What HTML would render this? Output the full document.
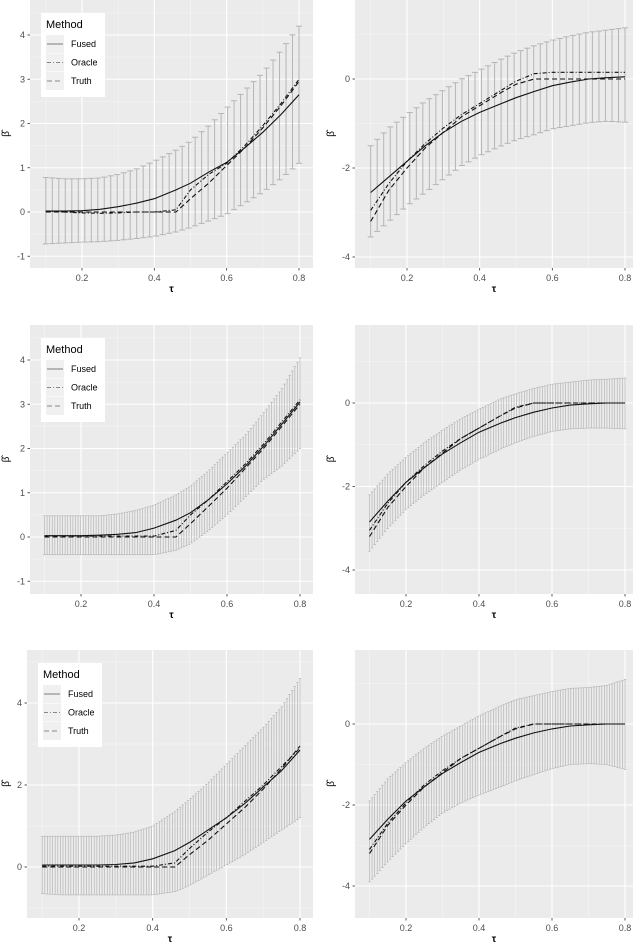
<!DOCTYPE html>
<html><head><meta charset="utf-8"><style>
html,body{margin:0;padding:0;background:#fff;}
svg{display:block;font-family:"Liberation Sans",sans-serif;}
</style></head><body>
<svg id="chart" width="640" height="944" viewBox="0 0 640 944"></svg>
<script>
const knots=[0.1,0.15,0.2,0.25,0.3,0.35,0.4,0.46,0.5,0.55,0.6,0.65,0.7,0.75,0.8];
const tlFused=[0.02,0.02,0.03,0.06,0.12,0.2,0.3,0.5,0.65,0.9,1.12,1.45,1.8,2.2,2.65];
const tlOracle=[0.02,0,-0.02,-0.03,-0.02,0,0,0.05,0.5,0.85,1.1,1.5,1.95,2.45,3.0];
const tlTruth=[0,0,0,0,0,0,0,0,0.3,0.65,1.05,1.45,1.9,2.4,2.95];
const tlUpper=[0.78,0.75,0.75,0.77,0.85,0.97,1.15,1.4,1.6,1.95,2.35,2.75,3.15,3.65,4.2];
const tlLower=[-0.72,-0.7,-0.68,-0.67,-0.64,-0.6,-0.55,-0.45,-0.35,-0.2,-0.05,0.2,0.45,0.75,1.1];
const trFused=[-2.55,-2.2,-1.85,-1.5,-1.2,-0.95,-0.75,-0.55,-0.42,-0.28,-0.15,-0.07,0,0.03,0.05];
const trOracle=[-2.95,-2.35,-1.85,-1.45,-1.1,-0.8,-0.55,-0.25,-0.05,0.12,0.15,0.15,0.15,0.15,0.15];
const trTruth=[-3.2,-2.5,-2.0,-1.55,-1.2,-0.85,-0.6,-0.3,-0.12,0,0,0,0,0,0];
const trUpper=[-1.5,-1.1,-0.8,-0.5,-0.25,0,0.2,0.45,0.6,0.75,0.87,0.97,1.05,1.1,1.15];
const trLower=[-3.55,-3.2,-2.85,-2.55,-2.25,-1.95,-1.72,-1.5,-1.37,-1.25,-1.12,-1.05,-0.98,-0.95,-0.97];
const mlFused=[0.03,0.03,0.03,0.04,0.06,0.1,0.2,0.38,0.55,0.85,1.2,1.6,2.05,2.55,3.05];
const mlOracle=[0.02,0.02,0.02,0.02,0.02,0.02,0.02,0.15,0.5,0.85,1.25,1.65,2.1,2.6,3.1];
const mlTruth=[0,0,0,0,0,0,0,0,0.3,0.7,1.1,1.55,2.0,2.5,3.0];
const mlUpper=[0.48,0.48,0.48,0.48,0.52,0.6,0.72,0.95,1.15,1.5,1.9,2.3,2.8,3.35,4.05];
const mlLower=[-0.4,-0.4,-0.4,-0.4,-0.4,-0.4,-0.4,-0.3,-0.15,0.15,0.5,0.9,1.3,1.6,2.0];
const mrFused=[-2.85,-2.35,-1.9,-1.55,-1.22,-0.95,-0.7,-0.48,-0.35,-0.22,-0.12,-0.05,-0.02,0,0];
const mrOracle=[-3.05,-2.4,-1.9,-1.5,-1.15,-0.85,-0.6,-0.3,-0.1,0,0,0,0,0,0];
const mrTruth=[-3.2,-2.5,-2.0,-1.55,-1.2,-0.85,-0.6,-0.3,-0.12,0,0,0,0,0,0];
const mrUpper=[-2.2,-1.7,-1.3,-0.95,-0.65,-0.38,-0.15,0.1,0.22,0.35,0.45,0.5,0.55,0.57,0.6];
const mrLower=[-3.55,-3.0,-2.55,-2.2,-1.9,-1.6,-1.35,-1.1,-0.95,-0.8,-0.68,-0.62,-0.6,-0.6,-0.62];
const blFused=[0.05,0.05,0.05,0.05,0.06,0.1,0.2,0.4,0.6,0.9,1.2,1.55,1.95,2.35,2.85];
const blOracle=[0.02,0.02,0.02,0.02,0.02,0.02,0.02,0.1,0.45,0.85,1.2,1.6,2.0,2.45,2.9];
const blTruth=[0,0,0,0,0,0,0,0,0.3,0.65,1.05,1.45,1.9,2.4,2.95];
const blUpper=[0.75,0.75,0.75,0.75,0.78,0.85,1.0,1.35,1.65,2.05,2.5,2.95,3.4,3.9,4.6];
const blLower=[-0.65,-0.68,-0.68,-0.68,-0.68,-0.68,-0.68,-0.6,-0.45,-0.2,0.05,0.3,0.6,0.9,1.2];
const brFused=[-2.85,-2.35,-1.9,-1.55,-1.22,-0.95,-0.7,-0.48,-0.35,-0.22,-0.12,-0.05,-0.02,0,0];
const brOracle=[-3.1,-2.45,-1.95,-1.5,-1.15,-0.85,-0.6,-0.3,-0.1,0,0,0,0,0,0];
const brTruth=[-3.2,-2.5,-2.0,-1.55,-1.2,-0.85,-0.6,-0.3,-0.12,0,0,0,0,0,0];
const brUpper=[-1.9,-1.35,-0.95,-0.6,-0.3,-0.05,0.2,0.45,0.6,0.7,0.8,0.88,0.9,0.95,1.1];
const brLower=[-3.9,-3.4,-2.95,-2.55,-2.2,-1.95,-1.75,-1.55,-1.4,-1.25,-1.1,-1.0,-0.98,-1.0,-1.12];
const xTicks=[0.2,0.4,0.6,0.8];
const xTickLabels=["0.2","0.4","0.6","0.8"];
const yTicksLeft=[-1,0,1,2,3,4];
const yTicksLeftBottom=[0,2,4];
const yTicksRight=[-4,-2,0];
const legendLabels=["Fused","Oracle","Truth"];

const NS="http://www.w3.org/2000/svg";
const svg=document.getElementById('chart');
function mk(tag,attrs,parent){const e=document.createElementNS(NS,tag);for(const k in attrs)e.setAttribute(k,attrs[k]);(parent||svg).appendChild(e);return e;}
function lerp(arr,x){for(let i=0;i<knots.length-1;i++){if(x<=knots[i+1]){const t=(x-knots[i])/(knots[i+1]-knots[i]);return arr[i]+t*(arr[i+1]-arr[i]);}}return arr[arr.length-1];}

const panels=[
 {id:'top-left',L:30,R:313,T:0,B:268,x2:82,x8:299,ya:0,yaP:212,yb:4,ybP:35,ticks:yTicksLeft,minor:true,f:tlFused,o:tlOracle,t:tlTruth,u:tlUpper,l:tlLower,n:40,caps:true,legend:true},
 {id:'top-right',L:355,R:633,T:0,B:268,x2:407,x8:625,ya:0,yaP:79,yb:-4,ybP:257,ticks:yTicksRight,f:trFused,o:trOracle,t:trTruth,u:trUpper,l:trLower,n:40,caps:true},
 {id:'middle-left',L:30,R:313,T:325,B:594,x2:81,x8:300,ya:0,yaP:537,yb:4,ybP:360,ticks:yTicksLeft,f:mlFused,o:mlOracle,t:mlTruth,u:mlUpper,l:mlLower,n:100,legend:true},
 {id:'middle-right',L:355,R:633,T:325,B:594,x2:406,x8:625,ya:0,yaP:403,yb:-4,ybP:570,ticks:yTicksRight,f:mrFused,o:mrOracle,t:mrTruth,u:mrUpper,l:mrLower,n:100},
 {id:'bottom-left',L:27,R:313,T:650,B:918,x2:79,x8:300,ya:0,yaP:867,yb:4,ybP:703,ticks:yTicksLeftBottom,f:blFused,o:blOracle,t:blTruth,u:blUpper,l:blLower,n:100,legend:true},
 {id:'bottom-right',L:355,R:633,T:650,B:918,x2:406,x8:625,ya:0,yaP:724,yb:-4,ybP:886,ticks:yTicksRight,f:brFused,o:brOracle,t:brTruth,u:brUpper,l:brLower,n:100}
];

panels.forEach(p=>{
 const g=mk('g',{});
 
 
 const X=v=>p.x2+(v-0.2)*(p.x8-p.x2)/0.6;
 const Y=v=>p.yaP+(v-p.ya)*(p.ybP-p.yaP)/(p.yb-p.ya);
 const bg=mk('rect',{x:p.L,y:p.T,width:p.R-p.L,height:p.B-p.T,fill:'#ebebeb'},g);
 
 
 const step=p.ticks[1]-p.ticks[0];
 // minor grid
 [0.1,0.3,0.5,0.7].forEach(v=>mk('line',{x1:X(v),x2:X(v),y1:p.T,y2:p.B,stroke:'#f6f6f6','stroke-width':0.6},g));
 for(let v=p.ticks[0]-step;v<=p.ticks[p.ticks.length-1]+step;v+=step){const m=v+step/2;const yy=Y(m);if(yy>p.T&&yy<p.B)mk('line',{x1:p.L,x2:p.R,y1:yy,y2:yy,stroke:'#f6f6f6','stroke-width':0.6},g);}
 // major grid
 xTicks.forEach((v,i)=>{mk('line',{x1:X(v),x2:X(v),y1:p.T,y2:p.B,stroke:'#fff','stroke-width':1.1},g);
   const tl=mk('text',{x:X(v),y:p.B+13,'font-size':9,fill:'#4d4d4d','text-anchor':'middle'},g);tl.textContent=xTickLabels[i];
   
   
   mk('line',{x1:X(v),x2:X(v),y1:p.B,y2:p.B+2.5,stroke:'#333','stroke-width':0.8},g);});
 p.ticks.forEach(v=>{mk('line',{x1:p.L,x2:p.R,y1:Y(v),y2:Y(v),stroke:'#fff','stroke-width':1.1},g);
   const tl=mk('text',{x:p.L-5,y:Y(v)+3,'font-size':9,fill:'#4d4d4d','text-anchor':'end'},g);tl.textContent=String(v);
   
   
   mk('line',{x1:p.L-2.5,x2:p.L,y1:Y(v),y2:Y(v),stroke:'#333','stroke-width':0.8},g);});
 // error bars
 const eg=mk('g',{stroke:'#b5b5b5','stroke-width':p.caps?1:0.7,fill:'none'},g);
 
 
 for(let i=0;i<p.n;i++){
   const xv=0.1+0.7*i/(p.n-1);
   const up=lerp(p.u,xv),lo=lerp(p.l,xv);
   mk('line',{x1:X(xv),x2:X(xv),y1:Y(up),y2:Y(lo)},eg);
   const cw=p.caps?3:1.2;
   mk('line',{x1:X(xv)-cw,x2:X(xv)+cw,y1:Y(up),y2:Y(up)},eg);
   mk('line',{x1:X(xv)-cw,x2:X(xv)+cw,y1:Y(lo),y2:Y(lo)},eg);
 }
 const series=[['fused-line',p.f,''],['oracle-line',p.o,'4 2 1 2'],['truth-line',p.t,'5 3']];
 series.forEach(s=>{
   const pts=knots.map((k,i)=>X(k).toFixed(1)+','+Y(s[1][i]).toFixed(1)).join(' ');
   const pl=mk('polyline',{points:pts,fill:'none',stroke:'#111','stroke-width':1.1,'stroke-dasharray':s[2]||'none'},g);
   
   
 });
 const xt=mk('text',{x:(p.L+p.R)/2,y:p.B+24,'font-size':10,fill:'#000','text-anchor':'middle','font-weight':'bold'},g);xt.textContent='τ';
 
 
 const yx=p.L<100?9:334;
 const yt=mk('text',{x:yx,y:(p.T+p.B)/2,'font-size':10,fill:'#000','text-anchor':'middle',transform:`rotate(-90 ${yx} ${(p.T+p.B)/2})`},g);yt.textContent='β̂';
 
 
 if(p.legend){
   const lx=p.L+11,ly=p.T+13;
   const lg=mk('g',{},g);
   
   
   mk('rect',{x:lx,y:ly,width:64,height:84,fill:'#fff'},lg);
   const tt=mk('text',{x:lx+5,y:ly+15,'font-size':11,fill:'#000'},lg);tt.textContent='Method';
   
   
   legendLabels.forEach((lab,i)=>{
     const ey=ly+31+i*18.5;
     const ent=mk('g',{},lg);
     
     
     mk('rect',{x:lx+5,y:ey-9,width:18,height:18,fill:'#f0f0f0'},ent);
     mk('line',{x1:lx+6,x2:lx+22,y1:ey,y2:ey,stroke:'#888','stroke-width':1.1,'stroke-dasharray':series[i][2]||'none'},ent);
     const tx=mk('text',{x:lx+30,y:ey+3,'font-size':9,fill:'#000'},ent);tx.textContent=lab;
   });
 }
});
</script>
</body></html>
